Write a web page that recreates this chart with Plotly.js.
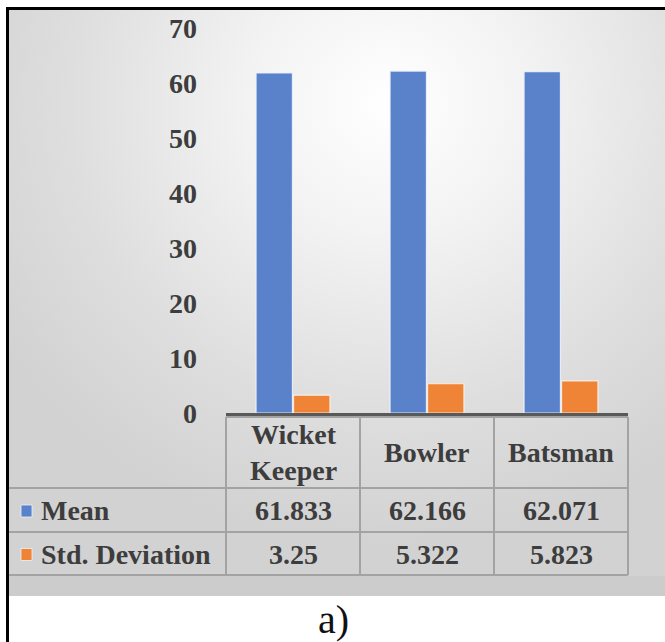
<!DOCTYPE html>
<html>
<head>
<meta charset="utf-8">
<script src="https://cdn.plot.ly/plotly-3.0.1.min.js"></script>
<style>
  html, body { margin: 0; padding: 0; background: #ffffff; }
  #wrap { position: relative; width: 665px; height: 642px; overflow: hidden; }
  #panel {
    position: absolute; left: 9px; top: 9px; width: 656px; height: 587px;
    background: radial-gradient(ellipse 70% 75% at 58% 16%, #ffffff 0%, #f3f3f3 30%, #dedede 70%, #d2d2d2 100%);
  }
  #frameTop { position: absolute; left: 6px; top: 7px; width: 659px; height: 3px; background: #000; }
  #frameLeft { position: absolute; left: 6px; top: 7px; width: 3px; height: 635px; background: #000; }
  #chart { position: absolute; left: 0; top: 0; width: 665px; height: 642px; }
</style>
</head>
<body>
<div id="wrap">
  <div id="panel"></div>
  <div id="frameTop"></div>
  <div id="frameLeft"></div>
  <div id="chart"></div>
</div>
<script>
// Player roles and their statistics
const categories = ['Wicket Keeper', 'Bowler', 'Batsman'];
const headerLabels = ['Wicket<br>Keeper', 'Bowler', 'Batsman'];
const seriesNames = ['Mean', 'Std. Deviation'];
const meanValues = [61.833, 62.166, 62.071];
const sdValues = [3.25, 5.322, 5.823];
const yTicks = [0, 10, 20, 30, 40, 50, 60, 70];

const blue = '#5a82cb';
const orange = '#ef8437';
const textColor = '#3d3d3d';
const gridLine = '#a3a3a3';
const serif = 'Liberation Serif, Times New Roman, serif';

// Plot-area geometry (pixels) used to place the table beneath the axis
const W = 665, H = 642;
const L = 226, R = 37, T = 28, B = 229;
const pw = W - L - R, ph = H - T - B;
const px = x => (x - L) / pw;              // page x -> paper x
const py = y => (H - B - y) / ph;          // page y -> paper y

const traces = [
  {
    type: 'bar', name: seriesNames[0], x: categories, y: meanValues,
    marker: { color: blue, line: { color: 'rgba(236,242,252,0.9)', width: 1.2 } },
    hoverinfo: 'skip'
  },
  {
    type: 'bar', name: seriesNames[1], x: categories, y: sdValues,
    marker: { color: orange, line: { color: 'rgba(252,240,230,0.9)', width: 1.2 } },
    hoverinfo: 'skip'
  }
];

const shapes = [];
const annotations = [];
const line = (x0, y0, x1, y1) => shapes.push({
  type: 'line', xref: 'paper', yref: 'paper', x0, y0, x1, y1,
  line: { color: gridLine, width: 2 }
});

// Data-table rules
const rowTop = 417, headerBottom = 488, meanBottom = 532, sdBottom = 575;
line(0, py(rowTop), 1, py(rowTop));
[headerBottom, meanBottom, sdBottom].forEach(y => line(px(9), py(y), 1, py(y)));
for (let i = 0; i <= categories.length; i++) {
  line(i / categories.length, py(rowTop), i / categories.length, py(sdBottom));
}
// Bottom band of the panel
shapes.push({
  type: 'rect', xref: 'paper', yref: 'paper', layer: 'below',
  x0: px(9), x1: px(665), y0: py(596), y1: py(sdBottom + 1),
  fillcolor: 'rgba(180,180,180,0.2)', line: { width: 0 }
});

const cellFont = { family: serif, size: 28, color: textColor, weight: 'bold' };
const rowCenters = [(rowTop + headerBottom) / 2, (headerBottom + meanBottom) / 2 + 1, (meanBottom + sdBottom) / 2 + 1];

// Header row: category names
categories.forEach((c, i) => annotations.push({
  xref: 'x', yref: 'paper', x: c, y: py(rowCenters[0]),
  text: headerLabels[i], showarrow: false, font: cellFont,
  xanchor: 'center', yanchor: 'middle', align: 'center'
}));

// Value rows with legend keys
[meanValues, sdValues].forEach((vals, r) => {
  const yc = rowCenters[r + 1];
  const color = r === 0 ? blue : orange;
  shapes.push({
    type: 'rect', xref: 'paper', yref: 'paper',
    x0: px(21), x1: px(32), y0: py(yc - 6), y1: py(yc + 6),
    fillcolor: color, line: { color: 'rgba(240,240,250,0.8)', width: 1 }
  });
  annotations.push({
    xref: 'paper', yref: 'paper', x: px(39), y: py(yc),
    text: seriesNames[r], showarrow: false, font: cellFont,
    xanchor: 'left', yanchor: 'middle'
  });
  vals.forEach((v, i) => annotations.push({
    xref: 'x', yref: 'paper', x: categories[i], y: py(yc),
    text: String(v), showarrow: false, font: cellFont,
    xanchor: 'center', yanchor: 'middle'
  }));
});

// Panel caption
annotations.push({
  xref: 'paper', yref: 'paper', x: px(333), y: py(619),
  text: 'a)', showarrow: false,
  font: { family: serif, size: 40, color: '#111111' },
  xanchor: 'center', yanchor: 'middle'
});

const layout = {
  width: W, height: H,
  margin: { l: L, r: R, t: T, b: B, pad: 0 },
  paper_bgcolor: 'rgba(0,0,0,0)',
  plot_bgcolor: 'rgba(0,0,0,0)',
  showlegend: false,
  barmode: 'group',
  bargap: 0.44,
  bargroupgap: 0.03,
  xaxis: {
    type: 'category', range: [-0.5, 2.5], showticklabels: false,
    showgrid: false, zeroline: false, ticks: '',
    showline: true, linecolor: '#595959', linewidth: 2.5, fixedrange: true
  },
  yaxis: {
    range: [0, 70], tickvals: yTicks, ticktext: yTicks.map(String),
    showgrid: false, zeroline: false, showline: false, ticks: '',
    ticklabelstandoff: 28,
    tickfont: { family: serif, size: 28, color: textColor, weight: 'bold' },
    fixedrange: true
  },
  shapes, annotations
};

Plotly.newPlot('chart', traces, layout, { displayModeBar: false, staticPlot: true });
</script>
</body>
</html>
